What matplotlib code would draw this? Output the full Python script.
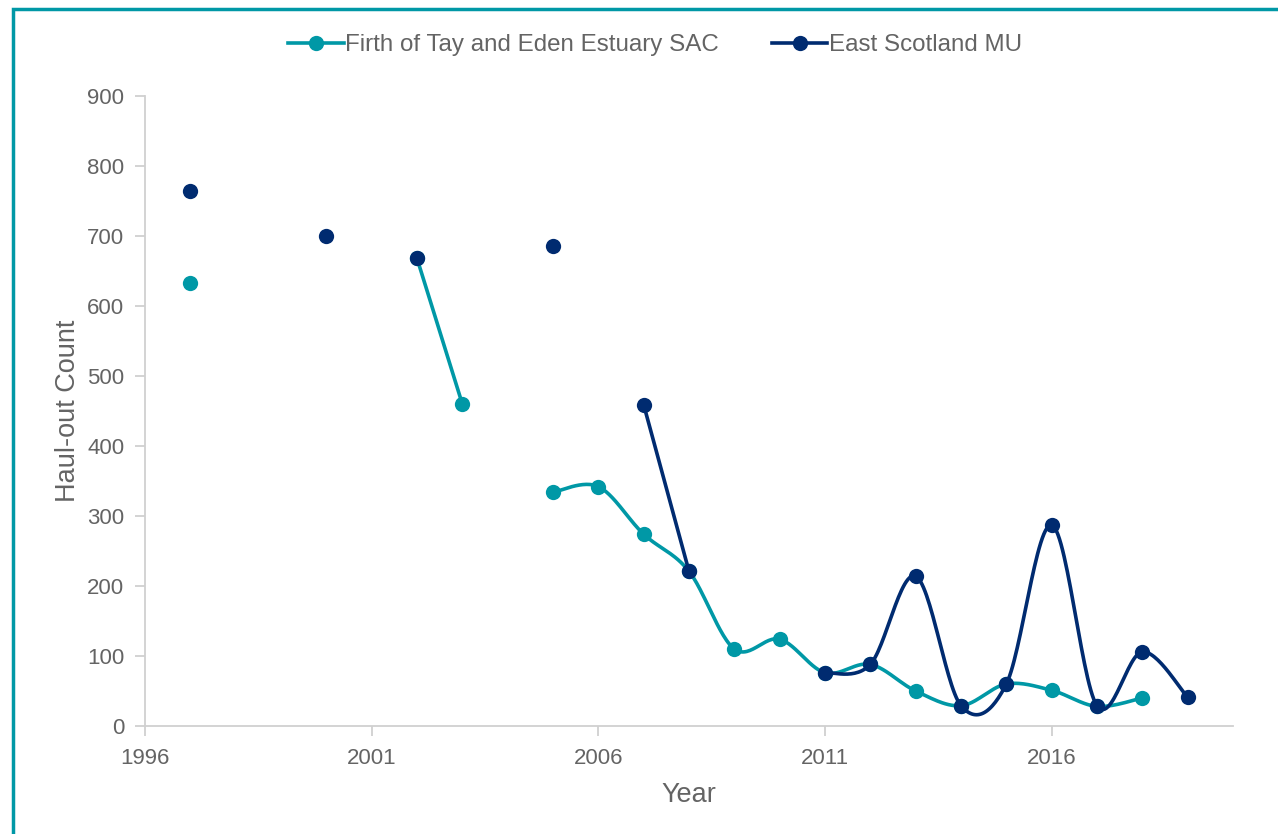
import numpy as np
import matplotlib
matplotlib.use("Agg")
import matplotlib.pyplot as plt
from matplotlib.lines import Line2D
from matplotlib.patches import Rectangle

plt.rcParams['font.family'] = ['Liberation Sans', 'DejaVu Sans']

firth = {1997: 633, 2002: 668, 2003: 460, 2005: 334, 2006: 342, 2007: 274,
         2008: 221, 2009: 110, 2010: 124, 2011: 76, 2012: 88, 2013: 50,
         2014: 29, 2015: 60, 2016: 51, 2017: 28, 2018: 40}
east = {1997: 764, 2000: 700, 2002: 668, 2005: 686, 2007: 459, 2008: 221,
        2011: 76, 2012: 88, 2013: 214, 2014: 29, 2015: 60, 2016: 287,
        2017: 29, 2018: 106, 2019: 41}
series_names = ['Firth of Tay and Eden Estuary SAC', 'East Scotland MU']
x_ticks = [1996, 2001, 2006, 2011, 2016]

TEAL = '#0098A6'
NAVY = '#002B70'
GRAY = '#646464'


def segments(d):
    ys = sorted(d)
    segs, cur = [], [ys[0]]
    for y in ys[1:]:
        if y == cur[-1] + 1:
            cur.append(y)
        else:
            segs.append(cur)
            cur = [y]
    segs.append(cur)
    return segs


def smooth(xs, vs, n=30):
    pts = np.column_stack([xs, vs]).astype(float)
    out = []
    for i in range(len(pts) - 1):
        p0 = pts[i - 1] if i > 0 else pts[i]
        p1 = pts[i]
        p2 = pts[i + 1]
        p3 = pts[i + 2] if i + 2 < len(pts) else pts[i + 1]
        c1 = p1 + (p2 - p0) / 6
        c2 = p2 - (p3 - p1) / 6
        t = np.linspace(0, 1, n)[:, None]
        b = ((1 - t) ** 3) * p1 + 3 * ((1 - t) ** 2) * t * c1 + 3 * (1 - t) * t ** 2 * c2 + t ** 3 * p2
        out.append(b if i == 0 else b[1:])
    out = np.vstack(out)
    return out[:, 0], out[:, 1]


fig = plt.figure(figsize=(12.78, 8.34), dpi=100)
ax = fig.add_axes([145 / 1278, 1 - 726 / 834, (1233 - 145) / 1278, (726 - 96) / 834])

MS = 11
LW = 2.6
for d, col, z in [(firth, TEAL, 2), (east, NAVY, 3)]:
    for seg in segments(d):
        vals = [d[y] for y in seg]
        if len(seg) > 1:
            sx, sy = smooth(seg, vals)
            ax.plot(sx, sy, color=col, lw=LW, zorder=z, solid_capstyle='round')
        ax.plot(seg, vals, 'o', color=col, ms=MS, zorder=z + 0.5, mec='none')

ax.set_xlim(1996, 2020)
ax.set_ylim(0, 900)
ax.set_xticks(x_ticks)
ax.set_yticks(range(0, 901, 100))
for s in ['top', 'right']:
    ax.spines[s].set_visible(False)
for s in ['left', 'bottom']:
    ax.spines[s].set_color('#D0D0D0')
    ax.spines[s].set_linewidth(1.3)
ax.tick_params(axis='both', colors='#D0D0D0', labelcolor=GRAY, labelsize=16,
               length=7, width=1.3)
ax.tick_params(axis='y', pad=8)
ax.tick_params(axis='x', pad=9)
ax.set_xlabel('Year', fontsize=19.5, color=GRAY, labelpad=9)
ax.set_ylabel('Haul-out Count', fontsize=19.5, color=GRAY, labelpad=4)

handles = [Line2D([], [], color=TEAL, lw=LW, marker='o', ms=MS, mec='none'),
           Line2D([], [], color=NAVY, lw=LW, marker='o', ms=MS, mec='none')]
fig.legend(handles, series_names,
           loc='center', bbox_to_anchor=(655 / 1278, 1 - 45 / 834), ncol=2,
           frameon=False, fontsize=17.4, labelcolor=GRAY, handlelength=2.3,
           handletextpad=0.05, columnspacing=2.2)

fig.patches.append(Rectangle((12.5 / 1278, -0.1), 1.2, 1 - 8.5 / 834 + 0.1,
                             transform=fig.transFigure, fill=False,
                             edgecolor=TEAL, lw=2.5, zorder=10))

fig.savefig('out.png', dpi=100)
